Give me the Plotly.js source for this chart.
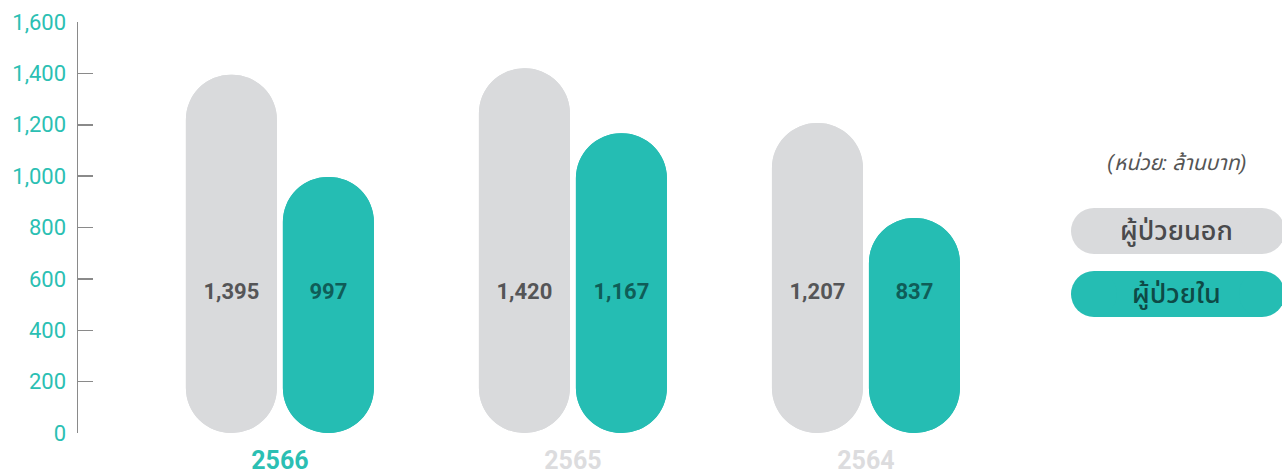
<!DOCTYPE html>
<html>
<head>
<meta charset="utf-8">
<script src="https://cdn.plot.ly/plotly-3.0.1.min.js"></script>
<style>html,body{margin:0;padding:0;background:#fff;}#chart{width:1282px;height:475px;}</style>
</head>
<body>
<div id="chart"></div>
<script>
// ---- data ----
const years = ['2566', '2565', '2564'];
const outpatient = [1395, 1420, 1207];   // ผู้ป่วยนอก
const inpatient = [997, 1167, 837];      // ผู้ป่วยใน
const seriesNames = ['ผู้ป่วยนอก', 'ผู้ป่วยใน'];
const unitNote = '(หน่วย: ล้านบาท)';
const yTicks = [0, 200, 400, 600, 800, 1000, 1200, 1400, 1600];
const labelLevel = 545; // value level where the number labels sit

// ---- style ----
const GRAY = '#d9dadc';
const TEAL = '#25bdb3';
const TEAL_TXT = '#2bbfb3';
const FONT = 'Roboto, "Noto Sans Thai", "Noto Sans", sans-serif';
const BW = 0.3106;           // bar width (axis units)
const OFF_A = -0.3208;       // gray offset
const OFF_B = 0.0102;        // teal offset

const xs = years.map((_, i) => i);

function pill(vals, color, off) {
  const up = {
    type: 'bar', x: xs, y: vals, base: 0, offset: off, width: BW,
    marker: {color: color, cornerradius: '50%', line: {width: 0}},
    hoverinfo: 'skip', showlegend: false
  };
  const down = {
    type: 'bar', x: xs, y: vals.map(v => -v), base: vals, offset: off, width: BW,
    marker: {color: color, cornerradius: '50%', line: {width: 0}},
    hoverinfo: 'skip', showlegend: false
  };
  return [up, down];
}

function labels(vals, color, off) {
  return {
    type: 'scatter', mode: 'text',
    x: xs.map(x => x + off + BW / 2),
    y: vals.map(() => labelLevel),
    text: vals.map(v => v.toLocaleString('en-US')),
    textfont: {family: FONT, size: 22, color: color, weight: 'bold'},
    cliponaxis: false, hoverinfo: 'skip', showlegend: false
  };
}

const data = [
  ...pill(outpatient, GRAY, OFF_A),
  ...pill(inpatient, TEAL, OFF_B),
  labels(outpatient, '#555557', OFF_A),
  labels(inpatient, '#0f5d58', OFF_B)
];

const tickColors = [TEAL_TXT, '#dcdcde', '#dcdcde'];

const layout = {
  width: 1282, height: 475,
  margin: {l: 78, r: 242, t: 22, b: 42},
  paper_bgcolor: '#fff', plot_bgcolor: '#fff',
  barmode: 'overlay',
  showlegend: false,
  font: {family: FONT},
  xaxis: {
    type: 'linear', range: [-0.689, 2.594],
    tickvals: xs,
    ticktext: years.map((y, i) => '<b><span style="color:' + tickColors[i] + '">' + y + '</span></b>'),
    tickfont: {family: FONT, size: 25},
    ticks: 'outside', ticklen: 5, tickcolor: 'rgba(0,0,0,0)',
    showline: false, zeroline: false, showgrid: false, fixedrange: true
  },
  yaxis: {
    range: [0, 1600], tickvals: yTicks, tickformat: ',',
    tickfont: {family: FONT, size: 22, color: TEAL_TXT},
    ticks: 'inside', ticklen: 15, tickwidth: 1.5, tickcolor: '#8a8a8a',
    showline: true, linecolor: '#8a8a8a', linewidth: 1.5,
    showgrid: false, zeroline: false, ticklabelstandoff: 6, fixedrange: true
  },
  shapes: [],
  annotations: [
    {xref: 'paper', yref: 'paper', x: 1.1424, y: 0.657, text: '<i>' + unitNote + '</i>',
     showarrow: false, font: {family: FONT, size: 21, color: '#555'}, xanchor: 'center', yanchor: 'middle'},
    {xref: 'paper', yref: 'paper', x: 1.1424, y: 0.4915, text: seriesNames[0],
     showarrow: false, font: {family: FONT, size: 27, color: '#4a4a4c', weight: 500}, xanchor: 'center', yanchor: 'middle'},
    {xref: 'paper', yref: 'paper', x: 1.1424, y: 0.3382, text: seriesNames[1],
     showarrow: false, font: {family: FONT, size: 27, color: '#0e4a46', weight: 500}, xanchor: 'center', yanchor: 'middle'}
  ]
};

// legend pills (paper-anchored, pixel-sized)
function legendPill(cy, color) {
  const w = 214, h = 46, r = h / 2;
  const common = {xref: 'paper', yref: 'paper', xsizemode: 'pixel', ysizemode: 'pixel',
                  xanchor: 1.1424, yanchor: cy, fillcolor: color, line: {width: 0}, layer: 'below'};
  const dx = 1;
  return [
    Object.assign({type: 'rect', x0: dx - w / 2 + r, x1: dx + w / 2 - r, y0: -h / 2, y1: h / 2}, common),
    Object.assign({type: 'circle', x0: dx - w / 2, x1: dx - w / 2 + h, y0: -h / 2, y1: h / 2}, common),
    Object.assign({type: 'circle', x0: dx + w / 2 - h, x1: dx + w / 2, y0: -h / 2, y1: h / 2}, common)
  ];
}
layout.shapes.push(...legendPill(0.4915, GRAY), ...legendPill(0.3382, TEAL));

Plotly.newPlot('chart', data, layout, {displayModeBar: false, staticPlot: true});
</script>
</body>
</html>
